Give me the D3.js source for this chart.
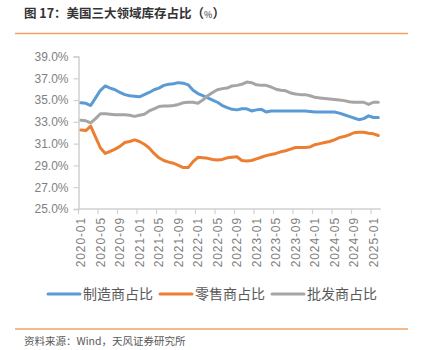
<!DOCTYPE html>
<html><head><meta charset="utf-8">
<script src="https://cdn.jsdelivr.net/npm/d3@7"></script>
<style>
html,body{margin:0;padding:0;background:#fff;}
svg{display:block;}
</style></head>
<body>
<svg id="chart" width="422" height="350"></svg>
<script>
// ---- data ----
const startYear = 2020, nMonths = 62; // 2020-01 .. 2025-02
const months = [];
for (let i = 0; i < nMonths; i++) {
  const y = startYear + Math.floor(i / 12), m = (i % 12) + 1;
  months.push(y + "-" + String(m).padStart(2, "0"));
}
const tickLabels = ["2020-01","2020-05","2020-09","2021-01","2021-05","2021-09","2022-01","2022-05","2022-09","2023-01","2023-05","2023-09","2024-01","2024-05","2024-09","2025-01"];
const yTicks = [25,27,29,31,33,35,37,39];
const seriesNames = ["制造商占比","零售商占比","批发商占比"];
const manufacturing = [34.75,34.7,34.5,35.2,35.9,36.3,36.1,35.95,35.7,35.5,35.4,35.35,35.3,35.5,35.7,35.95,36.1,36.35,36.45,36.5,36.6,36.55,36.4,35.9,35.6,35.4,35.2,35.0,34.8,34.5,34.3,34.15,34.1,34.2,34.2,34.0,34.1,34.15,33.9,34.0,34.0,34.0,34.0,34.0,34.0,34.0,34.0,33.95,33.9,33.9,33.9,33.9,33.9,33.8,33.65,33.5,33.35,33.2,33.3,33.55,33.4,33.4];
const retail = [32.25,32.2,32.6,31.6,30.6,30.1,30.3,30.5,30.75,31.1,31.2,31.35,31.2,30.95,30.6,30.1,29.7,29.45,29.3,29.2,29.0,28.8,28.8,29.35,29.75,29.7,29.65,29.55,29.5,29.55,29.7,29.75,29.8,29.45,29.4,29.45,29.6,29.75,29.9,30.0,30.1,30.25,30.35,30.5,30.65,30.65,30.65,30.7,30.9,31.0,31.1,31.2,31.35,31.55,31.65,31.8,32.0,32.05,32.05,31.95,31.9,31.75];
const wholesale = [33.15,33.1,32.9,33.3,33.75,33.75,33.7,33.65,33.65,33.65,33.6,33.5,33.6,33.7,34.0,34.2,34.4,34.45,34.45,34.5,34.6,34.75,34.8,34.8,34.7,35.0,35.4,35.7,35.95,36.05,36.1,36.3,36.35,36.45,36.65,36.6,36.4,36.35,36.35,36.2,36.0,35.9,35.85,35.65,35.55,35.5,35.5,35.4,35.25,35.2,35.15,35.1,35.05,35.0,34.95,34.85,34.8,34.8,34.8,34.6,34.8,34.8];
const colors = ["#5B9BD5","#ED7D31","#A5A5A5"];

// ---- drawing ----
const svg = d3.select("#chart");
const font = "'Noto Sans CJK SC','Noto Sans',sans-serif";
const numFont = "'Liberation Sans',Arial,sans-serif";

// title
const title = svg.append("text").attr("x", 24).attr("y", 18)
  .attr("font-family", font).attr("font-size", 12.5).attr("font-weight", "bold").attr("fill", "#333");
title.append("tspan").text("图 17：美国三大领域库存占比（");
title.append("tspan").attr("font-size", 9).attr("font-weight", "normal").text("%");
title.append("tspan").text("）");
svg.append("line").attr("x1", 15).attr("x2", 408).attr("y1", 33.5).attr("y2", 33.5)
  .attr("stroke", "#F4A063").attr("stroke-width", 1.5);

const x = d3.scaleBand().domain(months).range([78.5, 78.5 + nMonths * 4.875]).padding(0);
const y = d3.scaleLinear().domain([25, 39]).range([209, 56.5]);
const cx = d => x(d) + x.bandwidth() / 2;

// y axis
const yAxis = svg.append("g").attr("transform", "translate(78.5,0)")
  .call(d3.axisLeft(y).tickValues(yTicks).tickSize(5).tickFormat(d => d3.format(".1f")(d) + "%"));
yAxis.select(".domain").attr("stroke", "#d0d0d0").attr("stroke-width", 1.5);
yAxis.selectAll(".tick line").attr("stroke", "#d0d0d0").attr("stroke-width", 1.2);
yAxis.selectAll(".tick text").attr("font-family", numFont).attr("font-size", 12)
  .attr("fill", "#7f7f7f").attr("x", -10);

// x axis
const xAxisG = svg.append("g").attr("transform", "translate(0,209)");
xAxisG.append("line").attr("x1", 78.5).attr("x2", x.range()[1]).attr("y1", 0).attr("y2", 0)
  .attr("stroke", "#d0d0d0").attr("stroke-width", 1.5);
const tickIdx = months.map((m, i) => i).filter(i => i % 4 === 0);
xAxisG.selectAll("line.tk").data(tickIdx).join("line").attr("class", "tk")
  .attr("x1", i => x(months[i])).attr("x2", i => x(months[i])).attr("y1", 0).attr("y2", 5)
  .attr("stroke", "#d0d0d0").attr("stroke-width", 1.2);
xAxisG.selectAll("text").data(tickLabels).join("text")
  .attr("transform", d => `translate(${cx(d)},8) rotate(-90)`)
  .attr("text-anchor", "end").attr("dy", "0.35em")
  .attr("font-family", numFont).attr("font-size", 12).attr("letter-spacing", 0.9)
  .attr("fill", "#7f7f7f").text(d => d);

// lines
const allSeries = [manufacturing, retail, wholesale];
const lineGen = d3.line().x((d, i) => cx(months[i])).y(d => y(d)).curve(d3.curveLinear);
svg.selectAll("path.series").data(allSeries).join("path").attr("class", "series")
  .attr("d", d => lineGen(d)).attr("fill", "none")
  .attr("stroke", (d, i) => colors[i]).attr("stroke-width", 3)
  .attr("stroke-linejoin", "round").attr("stroke-linecap", "round");

// legend
const legX = [48, 160, 272];
const leg = svg.selectAll("g.leg").data(seriesNames).join("g").attr("class", "leg")
  .attr("transform", (d, i) => `translate(${legX[i]},294)`);
leg.append("line").attr("x1", 0).attr("x2", 32).attr("y1", 0).attr("y2", 0)
  .attr("stroke", (d, i) => colors[i]).attr("stroke-width", 3).attr("stroke-linecap", "round");
leg.append("text").attr("x", 35).attr("dy", "0.36em").attr("font-family", font).attr("font-size", 14)
  .attr("fill", "#595959").text(d => d);

// footer
svg.append("line").attr("x1", 15).attr("x2", 408).attr("y1", 329).attr("y2", 329)
  .attr("stroke", "#F4A063").attr("stroke-width", 1.5);
svg.append("text").attr("x", 24).attr("y", 345).attr("font-family", font).attr("font-size", 10.5)
  .attr("fill", "#595959").text("资料来源：Wind，天风证券研究所");
</script>
</body></html>
